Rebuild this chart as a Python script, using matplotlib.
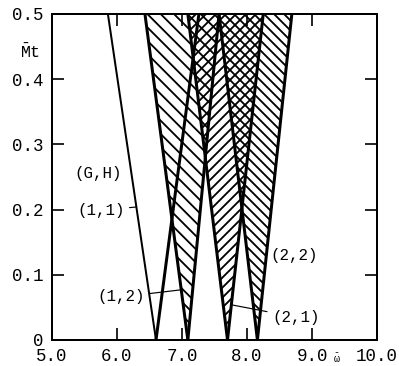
"""Instability regions of the (G,H) combination resonances versus mean torque."""

import matplotlib
matplotlib.use("Agg")
import matplotlib.pyplot as plt


# each region is a wedge: it starts at a single omega for Mt = 0 and opens up to Mt = 0.5
PAIRS = ["(1,1)", "(1,2)", "(2,1)", "(2,2)"]
OMEGA_APEX = [6.60, 7.09, 7.70, 8.16]
OMEGA_LEFT_TOP = [5.86, 6.43, 7.09, 7.57]
OMEGA_RIGHT_TOP = [7.26, 7.57, 8.25, 8.69]
MT_TOP = 0.5

X_TICKS = [5.0, 6.0, 7.0, 8.0, 9.0, 10.0]
X_TICK_LABELS = ["5.0", "6.0", "7.0", "8.0", "9.0", "10.0"]
Y_TICKS = [0.0, 0.1, 0.2, 0.3, 0.4, 0.5]
Y_TICK_LABELS = ["0", "0.1", "0.2", "0.3", "0.4", "0.5"]

FONT = "Liberation Mono"


def boundary(apex: float, top: float, mt: float) -> float:
    return apex + (top - apex) * mt / MT_TOP


def main() -> None:
    plt.rcParams["font.family"] = [FONT, "DejaVu Sans"]
    plt.rcParams["mathtext.fontset"] = "custom"
    plt.rcParams["mathtext.rm"] = FONT
    plt.rcParams["mathtext.it"] = FONT
    plt.rcParams["hatch.linewidth"] = 1.1

    fig = plt.figure(figsize=(399 / 120, 366 / 120), dpi=120)
    ax = fig.add_axes([52 / 399, 26 / 366, 325 / 399, 326 / 366])

    # (1,1) is left open, the others are hatched; overlaps come out cross-hatched
    hatches = [None, "\\" * 3, "/" * 4, "\\" * 4]
    for i, pair in enumerate(PAIRS):
        xs = [OMEGA_APEX[i], OMEGA_RIGHT_TOP[i], OMEGA_LEFT_TOP[i]]
        ys = [0.0, MT_TOP, MT_TOP]
        if hatches[i]:
            ax.fill(xs, ys, facecolor="none", edgecolor="black", linewidth=0, hatch=hatches[i])
        left_lw = 1.2 if i == 0 else 1.8
        ax.plot([OMEGA_APEX[i], OMEGA_LEFT_TOP[i]], [0.0, MT_TOP], color="black", lw=left_lw,
                solid_capstyle="butt")
        ax.plot([OMEGA_APEX[i], OMEGA_RIGHT_TOP[i]], [0.0, MT_TOP], color="black", lw=1.8,
                solid_capstyle="butt")

    ax.set_xlim(X_TICKS[0], X_TICKS[-1])
    ax.set_ylim(Y_TICKS[0], Y_TICKS[-1])
    ax.set_xticks(X_TICKS, X_TICK_LABELS)
    ax.set_yticks(Y_TICKS, Y_TICK_LABELS)
    ax.tick_params(direction="in", length=7, width=1.0, top=True, right=True,
                   labelsize=10.5, pad=5)
    ax.tick_params(axis="y", pad=5)
    for spine in ax.spines.values():
        spine.set_linewidth(1.2)

    leader = dict(arrowstyle="-", color="black", lw=0.7, shrinkA=1, shrinkB=0)
    ax.text(5.71, 0.256, "(G,H)", ha="center", va="center", fontsize=9.5)
    ax.annotate("(1,1)", xy=(boundary(OMEGA_APEX[0], OMEGA_LEFT_TOP[0], 0.204), 0.204),
                xytext=(5.75, 0.199), ha="center", va="center", fontsize=9.5, arrowprops=leader)
    ax.annotate("(1,2)", xy=(boundary(OMEGA_APEX[1], OMEGA_LEFT_TOP[1], 0.077), 0.077),
                xytext=(6.06, 0.066), ha="center", va="center", fontsize=9.5, arrowprops=leader)
    ax.annotate("(2,1)", xy=(boundary(OMEGA_APEX[2], OMEGA_RIGHT_TOP[2], 0.054), 0.054),
                xytext=(8.75, 0.035), ha="center", va="center", fontsize=9.5, arrowprops=leader)
    ax.annotate("(2,2)", xy=(boundary(OMEGA_APEX[3], OMEGA_RIGHT_TOP[3], 0.130), 0.130),
                xytext=(8.72, 0.130), ha="center", va="center", fontsize=9.5, arrowprops=leader)

    ax.text(-0.068, 0.883, r"$\bar{\mathrm{M}}\mathrm{t}$", transform=ax.transAxes,
            ha="center", va="center", fontsize=10, clip_on=False)
    ax.text(0.877, -0.055, r"$\bar{\omega}$", transform=ax.transAxes,
            ha="center", va="center", fontsize=6, clip_on=False)

    fig.savefig("out.png", dpi=120)


if __name__ == "__main__":
    main()
